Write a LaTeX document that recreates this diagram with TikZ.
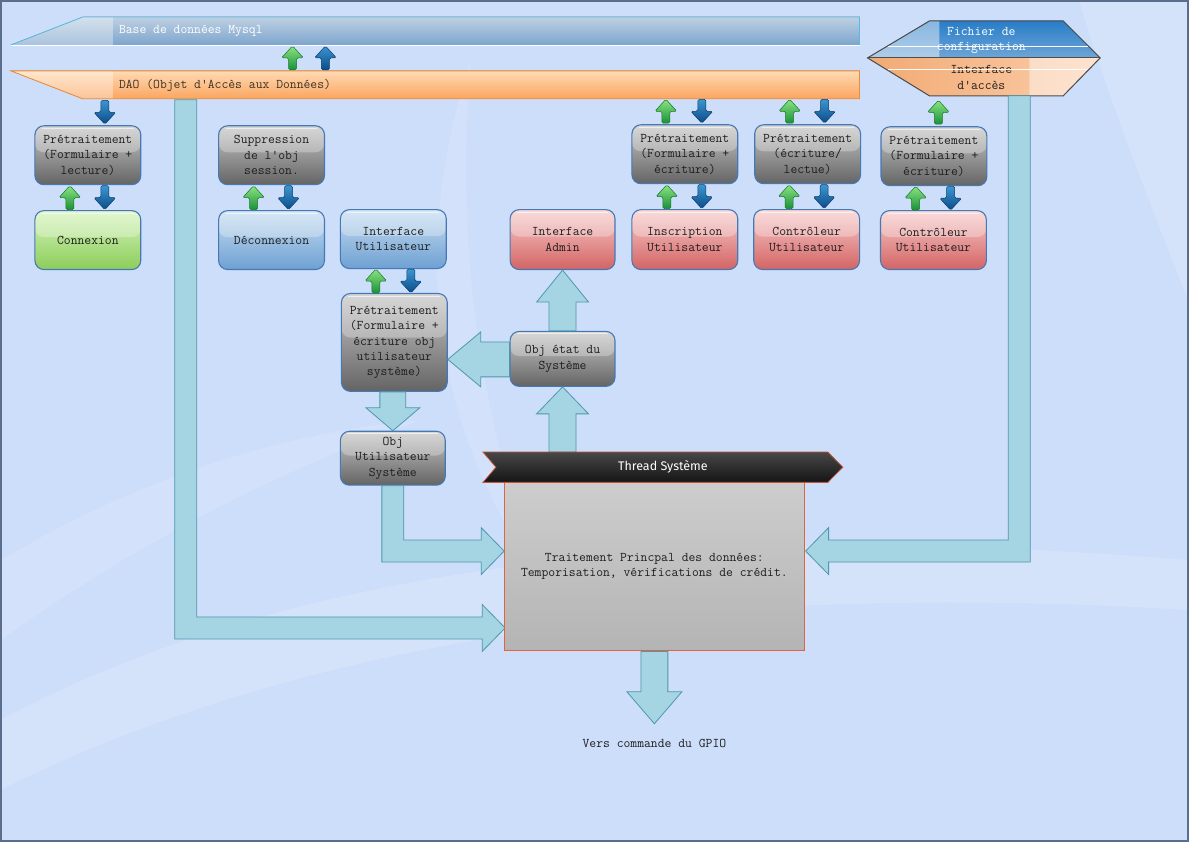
\documentclass[tikz,border=0pt]{standalone}
\usepackage{fontspec}
\setmainfont{Liberation Serif}
\newfontfamily\bannerfont{Fira Sans}
\usetikzlibrary{calc}

\definecolor{bg}{RGB}{205,222,250}
\definecolor{frame}{RGB}{90,110,140}
\definecolor{txt}{RGB}{30,30,30}
\definecolor{boxEdge}{RGB}{70,120,180}
\definecolor{greyTop}{RGB}{200,200,200}
\definecolor{greyBot}{RGB}{100,100,100}
\definecolor{greenTop}{RGB}{215,245,190}
\definecolor{greenBot}{RGB}{140,205,90}
\definecolor{blueTop}{RGB}{200,222,242}
\definecolor{blueBot}{RGB}{110,160,210}
\definecolor{redTop}{RGB}{248,205,205}
\definecolor{redBot}{RGB}{212,100,100}
\definecolor{dbTop}{RGB}{190,208,226}
\definecolor{dbBot}{RGB}{125,165,205}
\definecolor{dbEdge}{RGB}{90,185,225}
\definecolor{daoTop}{RGB}{255,218,180}
\definecolor{daoBot}{RGB}{250,165,95}
\definecolor{daoEdge}{RGB}{235,140,60}
\definecolor{flowFill}{RGB}{165,213,226}
\definecolor{flowEdge}{RGB}{80,150,175}
\definecolor{mainTop}{RGB}{205,205,205}
\definecolor{mainBot}{RGB}{180,180,180}
\definecolor{mainEdge}{RGB}{225,100,60}
\definecolor{gArTop}{RGB}{140,228,130}
\definecolor{gArBot}{RGB}{25,145,55}
\definecolor{gArEdge}{RGB}{20,120,40}
\definecolor{bArTop}{RGB}{60,150,210}
\definecolor{bArBot}{RGB}{10,75,135}
\definecolor{bArEdge}{RGB}{10,60,110}
\definecolor{cfgBlue}{RGB}{40,125,200}
\definecolor{cfgLight}{RGB}{110,165,215}
\definecolor{accDark}{RGB}{242,170,115}
\definecolor{accLight}{RGB}{252,205,170}

\newcommand\boxfont{\fontsize{13.3}{15.5}\selectfont\ttfamily}

% straight vertical block arrow from #1 to the tip #2
% #3 stem half width, #4 head half width, #5 head length
\newcommand\vflow[5]{%
  \path[flow] let \p1=(#1), \p2=(#2), \n1={sign(\y2-\y1)} in
    ({\x2-#3},\y1) -- ({\x2-#3},{\y2-(\n1)*#5}) -- ({\x2-#4},{\y2-(\n1)*#5})
    -- (\x2,\y2) -- ({\x2+#4},{\y2-(\n1)*#5}) -- ({\x2+#3},{\y2-(\n1)*#5})
    -- ({\x2+#3},\y1) -- cycle;}
% straight horizontal block arrow from #1 to the tip #2
\newcommand\hflow[5]{%
  \path[flow] let \p1=(#1), \p2=(#2), \n1={sign(\x2-\x1)} in
    (\x1,{\y2+#3}) -- ({\x2-(\n1)*#5},{\y2+#3}) -- ({\x2-(\n1)*#5},{\y2+#4})
    -- (\x2,\y2) -- ({\x2-(\n1)*#5},{\y2-#4}) -- ({\x2-(\n1)*#5},{\y2-#3})
    -- (\x1,{\y2-#3}) -- cycle;}
% bent block arrow: down from #1, then sideways into the tip #2
\newcommand\lflow[2]{%
  \path[flow] let \p1=(#1), \p2=(#2), \n1={sign(\x2-\x1)} in
    ({\x1-(\n1)*11pt},\y1) -- ({\x1+(\n1)*11pt},\y1) -- ({\x1+(\n1)*11pt},{\y2+11pt})
    -- ({\x2-(\n1)*23pt},{\y2+11pt}) -- ({\x2-(\n1)*23pt},{\y2+23.5pt}) -- (\x2,\y2)
    -- ({\x2-(\n1)*23pt},{\y2-23.5pt}) -- ({\x2-(\n1)*23pt},{\y2-11pt})
    -- ({\x1-(\n1)*11pt},{\y2-11pt}) -- cycle;}
% green "up" and blue "down" exchange arrows between two stacked boxes
\newcommand\exchange[2]{%
  \pic at ($($(#1.south)!.5!(#2.north)$)+(-18,0)$) {gup};
  \pic[rotate=180] at ($($(#1.south)!.5!(#2.north)$)+(17,0)$) {bup};}

\begin{document}
\begin{tikzpicture}[x=1pt,y=-1pt,
  box/.style={rounded corners=9pt, draw=boxEdge, line width=1.1pt,
    minimum width=106pt, minimum height=59pt, inner sep=2pt, align=center,
    font=\boxfont, text=txt,
    path picture={
      \fill[white,opacity=.28] (path picture bounding box.north west) rectangle
        ($(path picture bounding box.north east)!.45!(path picture bounding box.south east)$);
      \draw[white,opacity=.6,line width=1pt]
        ([xshift=7pt,yshift=-2.5pt]path picture bounding box.north west) --
        ([xshift=-7pt,yshift=-2.5pt]path picture bounding box.north east);}},
  greybox/.style={box, top color=greyTop, bottom color=greyBot},
  greenbox/.style={box, top color=greenTop, bottom color=greenBot},
  bluebox/.style={box, top color=blueTop, bottom color=blueBot},
  redbox/.style={box, top color=redTop, bottom color=redBot},
  flow/.style={fill=flowFill, draw=flowEdge, line width=.8pt},
  bartext/.style={anchor=west, inner sep=0pt, font=\boxfont},
  garr/.style={top color=gArTop, bottom color=gArBot, draw=gArEdge, line width=.5pt, rounded corners=1.5pt},
  barr/.style={top color=bArTop, bottom color=bArBot, draw=bArEdge, line width=.5pt, rounded corners=1.5pt},
  gup/.pic={\path[garr] (0,-12) -- (11,0) -- (4,0) -- (4,12) -- (-4,12) -- (-4,0) -- (-11,0) -- cycle;},
  bup/.pic={\path[barr] (0,-12) -- (11,0) -- (4,0) -- (4,12) -- (-4,12) -- (-4,0) -- (-11,0) -- cycle;},
]
% ---------- background ----------
\fill[bg] (0,0) rectangle (1189,841);
\fill[white,opacity=.16] (0,720) .. controls (300,560) and (700,520) .. (1189,560)
  -- (1189,610) .. controls (700,580) and (300,640) .. (0,790) -- cycle;
\fill[white,opacity=.12] (470,60) .. controls (410,250) and (430,420) .. (540,580)
  .. controls (480,420) and (455,250) .. (470,60) -- cycle;
\fill[white,opacity=.14] (1080,0) -- (1189,0) -- (1189,300) .. controls (1150,200) and (1110,100) .. (1080,0) -- cycle;
\fill[white,opacity=.12] (0,560) .. controls (150,470) and (300,430) .. (420,420)
  .. controls (280,470) and (140,540) .. (0,640) -- cycle;
\draw[frame,line width=2pt] (0,0) rectangle (1189,841);

% ---------- database bar ----------
\fill[top color=dbTop, bottom color=dbBot] (10,44) -- (82,16) -- (860,16) -- (860,44) -- cycle;
\fill[white,opacity=.35] (10,44) -- (82,16) -- (112,16) -- (112,44) -- cycle;
\draw[dbEdge,line width=.8pt] (10,44) -- (82,16) -- (860,16) -- (860,44);
\draw[white,line width=.8pt] (10,44) -- (860,44);
\node[bartext, text=white] (db) at (118,30) {Base de données Mysql};

% ---------- DAO bar ----------
\fill[top color=daoTop, bottom color=daoBot] (10,70) -- (860,70) -- (860,98) -- (82,98) -- cycle;
\fill[white,opacity=.35] (10,70) -- (112,70) -- (112,98) -- (82,98) -- cycle;
\draw[daoEdge,line width=.8pt] (10,70) -- (860,70) -- (860,98) -- (82,98) -- cycle;
\node[bartext, text=txt!80!brown] (dao) at (118,85) {DAO (Objet d'Accès aux Données)};

% ---------- configuration file / access interface ----------
\fill[top color=cfgBlue, bottom color=cfgLight] (868,57) -- (930,20) -- (1064,20) -- (1101,57) -- cycle;
\fill[white,opacity=.45] (868,57) -- (930,20) -- (940,20) -- (940,57) -- cycle;
\fill[left color=accDark, right color=accLight] (868,57) -- (1101,57) -- (1064,95) -- (930,95) -- cycle;
\fill[white,opacity=.45] (1030,57) -- (1101,57) -- (1064,95) -- (1030,95) -- cycle;
\node[font=\boxfont, text=white, align=center] (cfg) at (982,39.5) {Fichier de\\configuration};
\node[font=\boxfont, text=txt, align=center] (acc) at (982,76.5) {Interface\\d'accès};
\draw[white,line width=.8pt] (888,45) -- (1089,45);
\draw[white,line width=.8pt] (888,69) -- (1089,69);
\draw[black!70,line width=1pt] (868,57) -- (930,20) -- (1064,20) -- (1101,57) -- (1064,95) -- (930,95) -- cycle;
\draw[black!70,line width=1pt] (868,57) -- (1101,57);
\coordinate (accOut) at (1020,95);

% ---------- boxes ----------
\node[greybox] (p1) at (87,154.5) {Prétraitement\\(Formulaire +\\lecture)};
\node[greenbox] (conn) at (87,239.5) {Connexion};
\node[greybox] (supp) at (271,154.5) {Suppression\\de l'obj\\session.};
\node[bluebox] (deco) at (271,239.5) {Déconnexion};
\node[bluebox] (iu) at (393,238.5) {Interface\\Utilisateur};
\node[greybox, minimum height=98pt] (pu) at (394,342) {Prétraitement\\(Formulaire +\\écriture obj\\utilisateur\\système)};
\node[greybox, minimum width=105pt, minimum height=54pt] (ou) at (392.5,458) {Obj\\Utilisateur\\Système};
\node[greybox, minimum width=105pt, minimum height=55pt] (oe) at (562.5,358.5) {Obj état du\\Système};
\node[redbox, minimum width=105pt, minimum height=60pt] (ia) at (562.5,239) {Interface\\Admin};
\node[greybox] (p2) at (685,153.5) {Prétraitement\\(Formulaire +\\écriture)};
\node[redbox, minimum height=60pt] (ins) at (685,239) {Inscription\\Utilisateur};
\node[greybox] (p3) at (808,153.5) {Prétraitement\\(écriture/\\lectue)};
\node[redbox, minimum height=60pt] (cu1) at (807,239) {Contrôleur\\Utilisateur};
\node[greybox] (p4) at (934.5,155.5) {Prétraitement\\(Formulaire +\\écriture)};
\node[redbox] (cu2) at (934,239.5) {Contrôleur\\Utilisateur};

% ---------- main processing block ----------
\node[minimum width=360pt, minimum height=30pt, inner sep=0pt] (thread) at (663,467) {};
\node[font=\boxfont, text=txt, align=center] (gpio) at (654.5,744) {Vers commande du GPIO};
\coordinate (daoOut) at (185,99);
\coordinate (inA) at (505,628);
\coordinate (inB) at (504,551);
\coordinate (inC) at (806,551);
\coordinate (gpioIn) at (654.5,724);

% ---------- data flows ----------
\lflow{daoOut}{inA}
\lflow{ou.south}{inB}
\lflow{accOut}{inC}
\vflow{pu.south}{ou.north}{13pt}{27pt}{23pt}
\hflow{oe.west}{[yshift=-17pt]pu.east}{17.5pt}{27.5pt}{33pt}
\vflow{oe.north}{ia.south}{13.5pt}{26pt}{32pt}
\vflow{thread.north -| oe.south}{oe.south}{13.5pt}{26pt}{27pt}

\node[draw=mainEdge, line width=1pt, top color=mainTop, bottom color=mainBot,
  minimum width=301pt, minimum height=169pt, font=\boxfont, text=txt, align=center]
  (main) at (654.5,566.5) {Traitement Princpal des données:\\Temporisation, vérifications de crédit.};
\vflow{main.south}{gpioIn}{13.5pt}{27.5pt}{32pt}

% ---------- thread banner ----------
\path[top color=black!72, bottom color=black!92, draw=mainEdge!85!black, line width=.8pt]
  (thread.north west) -- ([xshift=-15pt]thread.north east) -- (thread.east)
  -- ([xshift=-15pt]thread.south east) -- (thread.south west) -- ([xshift=13pt]thread.west) -- cycle;
\node[font=\bannerfont\fontsize{12.5}{14}\selectfont, text=white] at (thread.center) {Thread Système};

% ---------- exchange arrows ----------
\pic at (292,57) {gup};
\pic at (325,57) {bup};
\pic[rotate=180] at ($(p1.north)+(17,-13)$) {bup};
\exchange{p1}{conn}
\exchange{supp}{deco}
\exchange{iu}{pu}
\pic at ($(p2.north)+(-19,-13)$) {gup};
\pic[rotate=180] at ($(p2.north)+(17,-13)$) {bup};
\exchange{p2}{ins}
\pic at ($(p3.north)+(-18,-13)$) {gup};
\pic[rotate=180] at ($(p3.north)+(17,-13)$) {bup};
\exchange{p3}{cu1}
\pic at ($(p4.north)+(4.5,-14)$) {gup};
\exchange{p4}{cu2}
\end{tikzpicture}
\end{document}
